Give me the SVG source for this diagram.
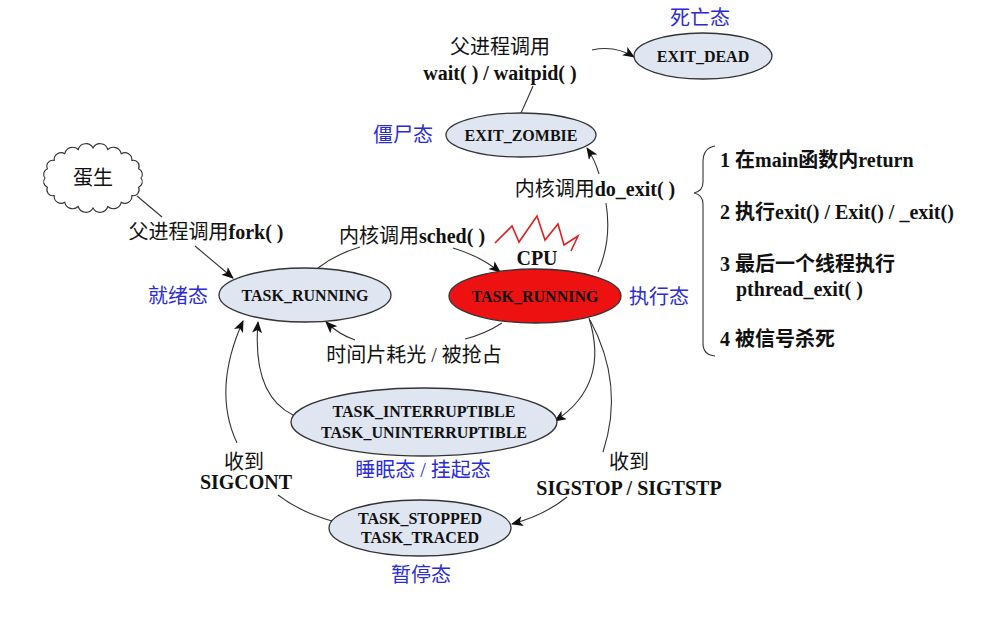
<svg xmlns="http://www.w3.org/2000/svg" width="997" height="618" viewBox="0 0 997 618">
<defs>
<marker id="ah" markerWidth="12" markerHeight="10" refX="11" refY="5" orient="auto" markerUnits="userSpaceOnUse">
<path d="M0,0 L12,5 L0,10 L3,5 Z" fill="#111"/>
</marker>
<style>
.st{fill:#dfe6f2;stroke:#333;stroke-width:1.3}
.red{fill:#ee1111;stroke:#333;stroke-width:1.3}
.nt{font-family:"Liberation Serif","Noto Sans CJK SC",serif;font-weight:bold;font-size:16px;fill:#111;text-anchor:middle;dominant-baseline:central}
.lb{font-family:"Liberation Serif","Noto Sans CJK SC",serif;font-size:20px;fill:#111;text-anchor:middle;dominant-baseline:central}
.b{font-weight:bold}
.bl{font-family:"Liberation Serif","Noto Sans CJK SC",serif;font-size:20px;fill:#2b2bd6;text-anchor:middle;dominant-baseline:central}
.ls{font-family:"Liberation Serif","Noto Sans CJK SC",serif;font-size:20px;fill:#111;dominant-baseline:central;font-weight:bold}
.c{fill:none;stroke:#333;stroke-width:1.1}
.ca{fill:none;stroke:#333;stroke-width:1.1;marker-end:url(#ah)}
</style>
</defs>
<rect width="997" height="618" fill="#fff"/>

<g id="connectors">
<path class="c" d="M533,86 Q527,100 521,113"/>
<path class="ca" d="M592,50 Q615,45 634,57"/>
<path class="c" d="M598,272 Q612,240 606,203"/>
<path class="ca" d="M599,174 Q595,160 587,148"/>
<path class="c" d="M137,196 L162,217"/>
<path class="ca" d="M195,246 L233,278"/>
<path class="c" d="M318,268 Q336,254 360,247"/>
<path class="ca" d="M453,248 Q480,256 500,272"/>
<path class="c" d="M502,323 Q485,334 465,339"/>
<path class="ca" d="M355,340 Q338,334 326,322"/>
<path class="ca" d="M589,318 Q610,385 555,421"/>
<path class="ca" d="M293,415 Q252,395 258,322"/>
<path class="c" d="M590,320 Q625,385 603,452"/>
<path class="ca" d="M567,497 Q545,515 512,524"/>
<path class="c" d="M332,521 Q300,512 278,495"/>
<path class="ca" d="M237,443 Q212,390 243,321"/>
<path class="c" d="M715,146 Q703,148 703,162 L703,182 Q703,191 694,193 Q703,195 703,204 L703,343 Q703,355 715,356"/>
</g>

<g id="cloud">
<path fill="#fff" stroke="#333" stroke-width="1.1" d="M141,178 A6,6 0 0 1 138.6,187.3 A6,6 0 0 1 131.8,195.6 A7,7 0 0 1 121.2,202.3 A8,8 0 0 1 107.8,206.5 A8,8 0 0 1 93,208 A8,8 0 0 1 78.2,206.5 A8,8 0 0 1 64.8,202.3 A7,7 0 0 1 54.2,195.6 A6,6 0 0 1 47.4,187.3 A6,6 0 0 1 45,178 A6,6 0 0 1 47.4,168.7 A6,6 0 0 1 54.2,160.4 A7,7 0 0 1 64.8,153.7 A8,8 0 0 1 78.2,149.5 A8,8 0 0 1 93,148 A8,8 0 0 1 107.8,149.5 A8,8 0 0 1 121.2,153.7 A7,7 0 0 1 131.8,160.4 A6,6 0 0 1 138.6,168.7 A6,6 0 0 1 141,178 Z"/>
<text class="lb" x="93" y="178" font-size="21">蛋生</text>
</g>

<g id="exit_dead">
<ellipse class="st" cx="703" cy="56" rx="69" ry="23"/>
<text class="nt" x="703" y="56">EXIT_DEAD</text>
<text class="bl" x="700" y="18">死亡态</text>
</g>

<g id="exit_zombie">
<ellipse class="st" cx="521" cy="135" rx="75" ry="22"/>
<text class="nt" x="521" y="135">EXIT_ZOMBIE</text>
<text class="bl" x="403" y="135">僵尸态</text>
</g>

<g id="ready">
<ellipse class="st" cx="305" cy="295" rx="86" ry="27"/>
<text class="nt" x="305" y="295">TASK_RUNNING</text>
<text class="bl" x="178" y="296">就绪态</text>
</g>

<g id="running">
<polyline fill="none" stroke="#e02020" stroke-width="1.6" points="495,243 512,226 519,242 537,216 545,240 558,224 564,245 578,236 571,251"/>
<text class="lb b" x="537" y="258">CPU</text>
<ellipse class="red" cx="535" cy="296" rx="86" ry="27"/>
<text class="nt" x="535" y="296">TASK_RUNNING</text>
<text class="bl" x="659" y="297">执行态</text>
</g>

<g id="sleep">
<ellipse class="st" cx="424" cy="422" rx="133" ry="34"/>
<text class="nt" x="424" y="411">TASK_INTERRUPTIBLE</text>
<text class="nt" x="424" y="432">TASK_UNINTERRUPTIBLE</text>
<text class="bl" x="423" y="470">睡眠态 / 挂起态</text>
</g>

<g id="stopped">
<ellipse class="st" cx="420" cy="528" rx="91" ry="28"/>
<text class="nt" x="420" y="518">TASK_STOPPED</text>
<text class="nt" x="420" y="537">TASK_TRACED</text>
<text class="bl" x="421" y="575">暂停态</text>
</g>

<g id="labels">
<text class="lb" x="500" y="47">父进程调用</text>
<text class="lb b" x="500" y="73">wait( ) / waitpid( )</text>
<text class="lb" x="595" y="189">内核调用<tspan class="b">do_exit( )</tspan></text>
<text class="lb" x="206" y="232">父进程调用<tspan class="b">fork( )</tspan></text>
<text class="lb" x="412" y="236">内核调用<tspan class="b">sched( )</tspan></text>
<text class="lb" x="414" y="355">时间片耗光 / 被抢占</text>
<text class="lb" x="244" y="462">收到</text>
<text class="lb b" x="246" y="482">SIGCONT</text>
<text class="lb" x="629" y="462">收到</text>
<text class="lb b" x="629" y="488">SIGSTOP / SIGTSTP</text>
</g>

<g id="reasons">
<text class="ls" x="720" y="160">1 在main函数内return</text>
<text class="ls" x="720" y="212">2 执行exit() / Exit() / _exit()</text>
<text class="ls" x="720" y="264">3 最后一个线程执行</text>
<text class="ls" x="736" y="289">pthread_exit( )</text>
<text class="ls" x="720" y="339">4 被信号杀死</text>
</g>
</svg>
